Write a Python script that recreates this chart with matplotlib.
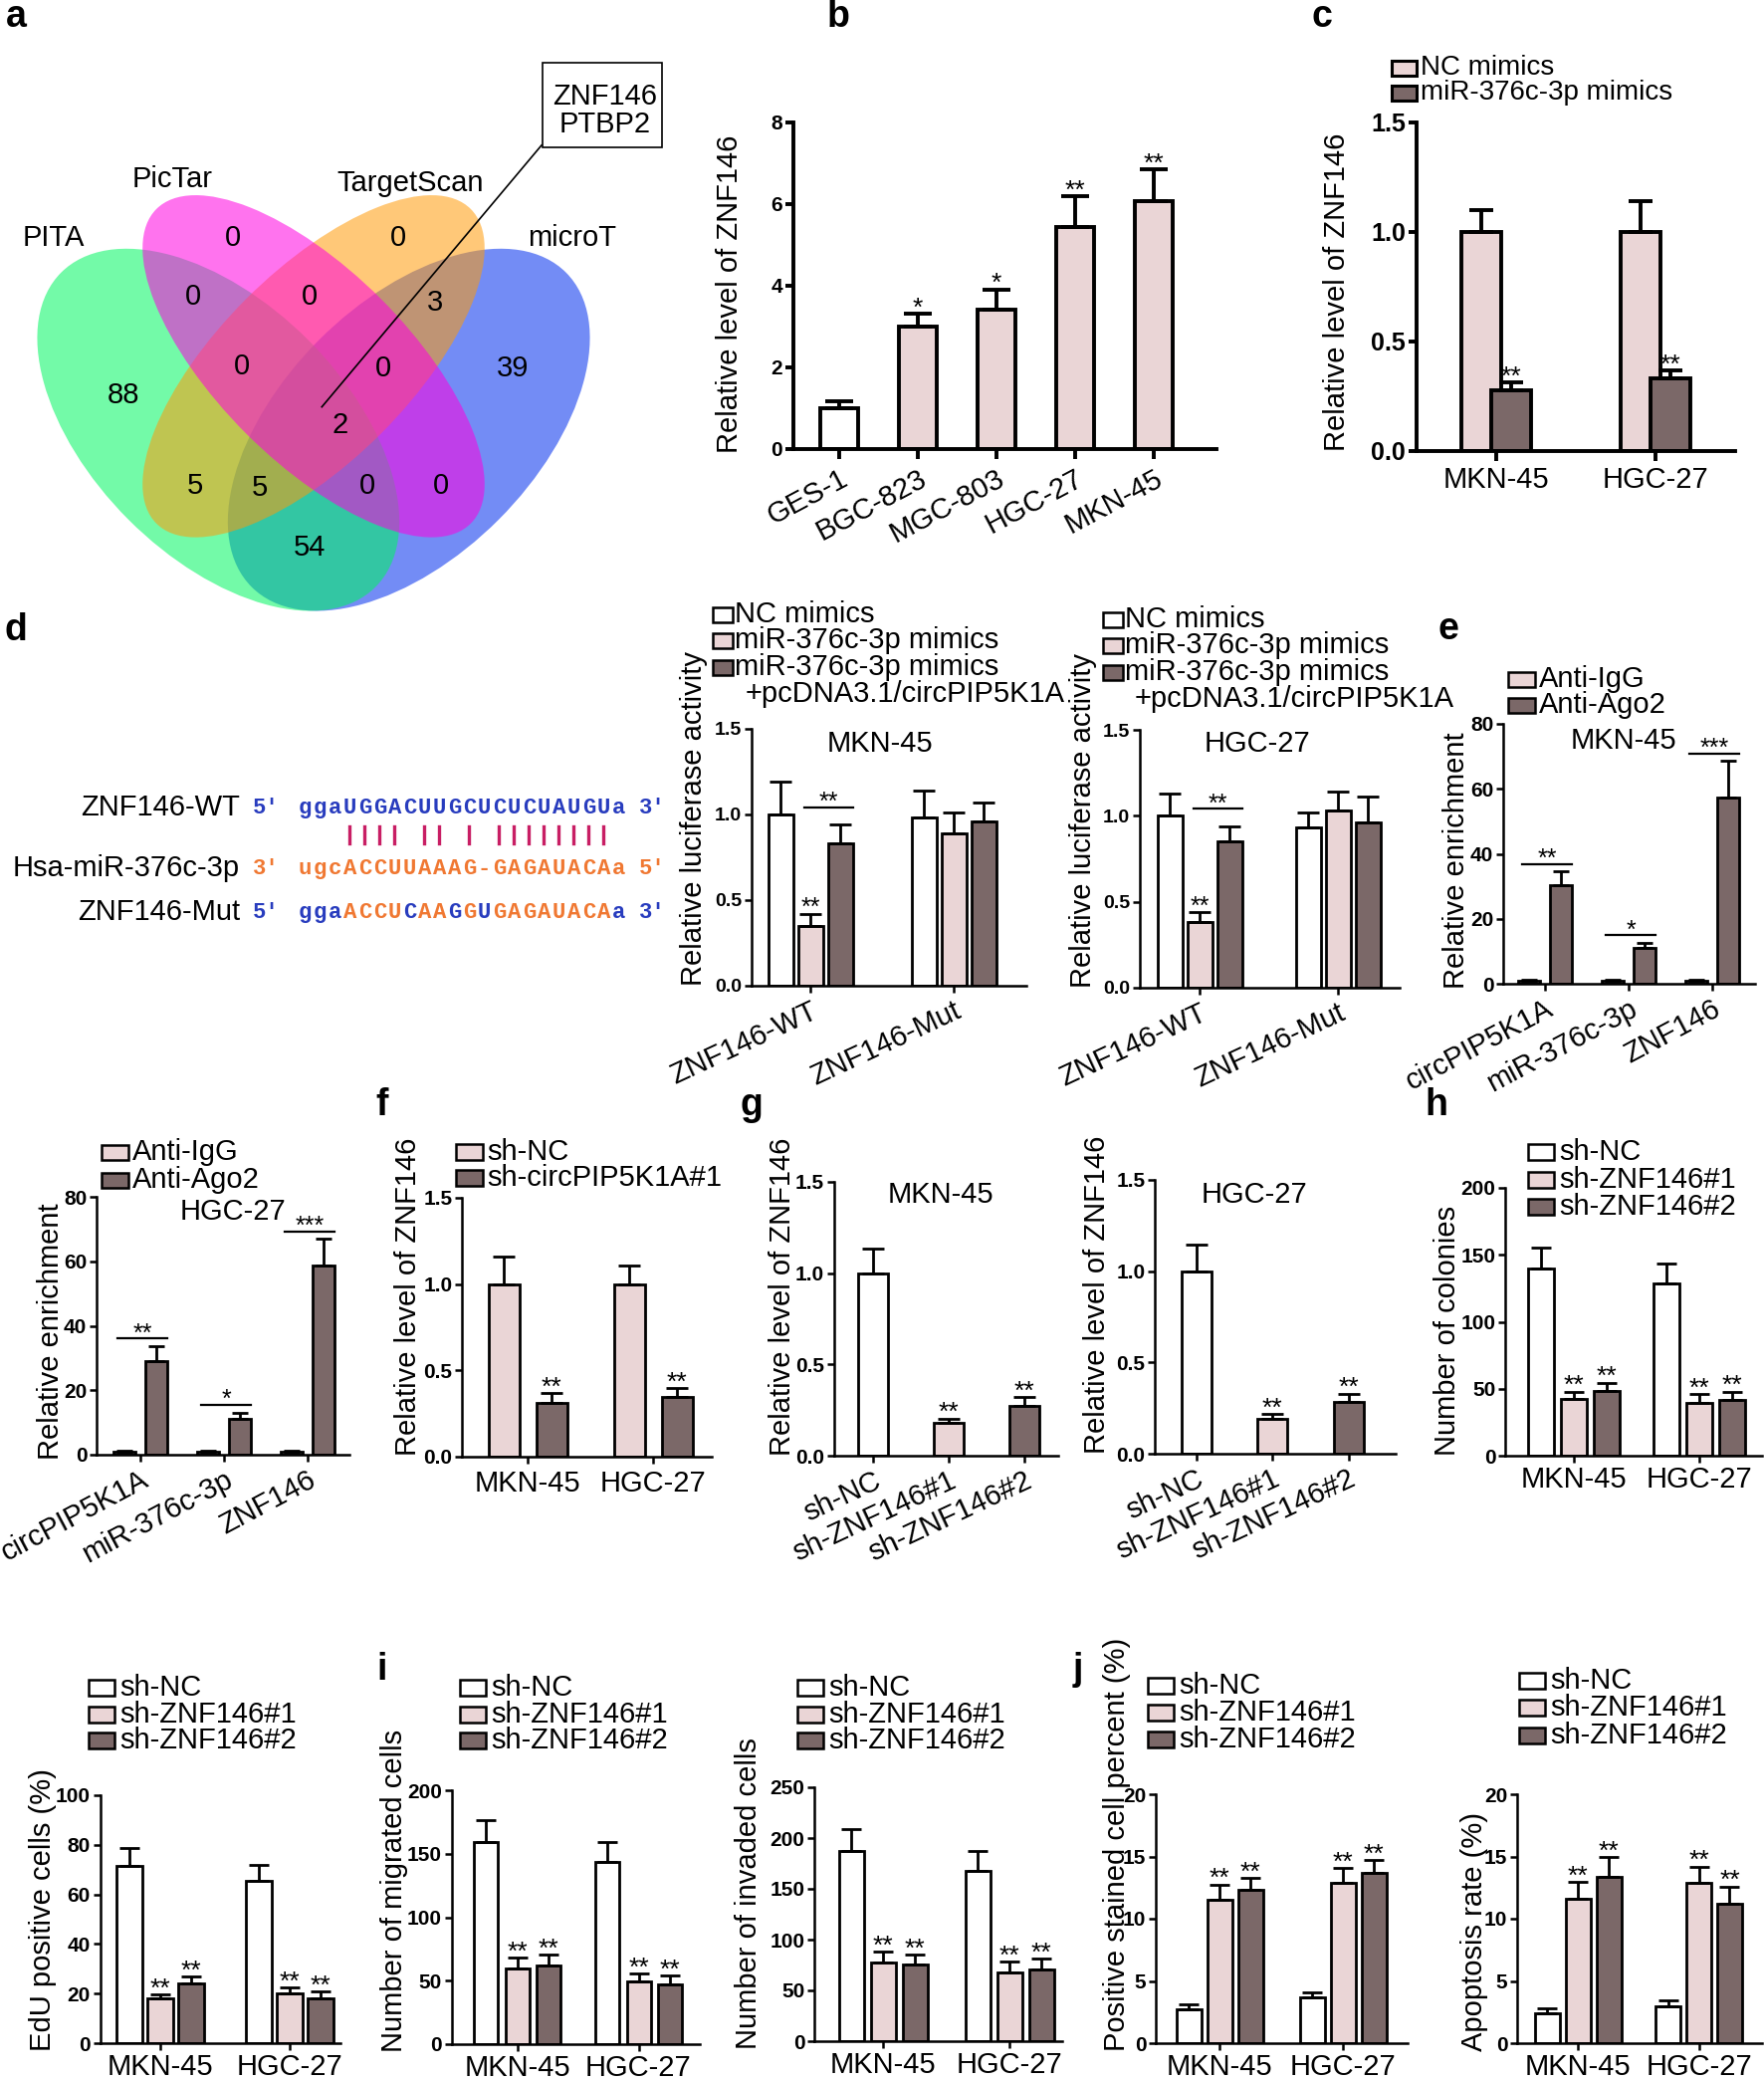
import numpy as np
import matplotlib.pyplot as plt
from matplotlib.patches import Ellipse, Rectangle
from matplotlib.lines import Line2D
from matplotlib.transforms import Affine2D, ScaledTranslation

plt.rcParams['font.family'] = ['Liberation Sans', 'DejaVu Sans']

W, H = 1772, 2089
WHITE, PINK, DARK = '#FFFFFF', '#EAD5D6', '#7B6868'

# ---------------- data ----------------
venn_names = ['PITA', 'PicTar', 'TargetScan', 'microT']
venn_counts = [0, 0, 0, 0, 3, 0, 0, 88, 39, 2, 5, 5, 0, 0, 54]
venn_shared = ['ZNF146', 'PTBP2']

b_cells = ['GES-1', 'BGC-823', 'MGC-803', 'HGC-27', 'MKN-45']
b_mean = [1.0, 3.0, 3.42, 5.43, 6.08]
b_err = [0.17, 0.31, 0.49, 0.77, 0.78]
b_sig = ['', '*', '*', '**', '**']

lines2 = ['MKN-45', 'HGC-27']
c_series = ['NC mimics', 'miR-376c-3p mimics']
c_mean = [[1.0, 1.0], [0.277, 0.33]]
c_err = [[0.10, 0.14], [0.037, 0.038]]
c_sig = [['', ''], ['**', '**']]

seq_names = ['ZNF146-WT', 'Hsa-miR-376c-3p', 'ZNF146-Mut']
seq_wt = 'ggaUGGACUUGCUCUCUAUGUa'
seq_mir = 'ugcACCUUAAAG-GAGAUACAa'
seq_mut = 'ggaACCUCAAGGUGAGAUACAa'

d_groups = ['ZNF146-WT', 'ZNF146-Mut']
d_series = ['NC mimics', 'miR-376c-3p mimics', 'miR-376c-3p mimics']
d_extra = '+pcDNA3.1/circPIP5K1A'
d_mkn_mean = [[1.0, 0.98], [0.35, 0.89], [0.83, 0.96]]
d_mkn_err = [[0.19, 0.16], [0.07, 0.12], [0.11, 0.11]]
d_hgc_mean = [[1.0, 0.93], [0.38, 1.03], [0.85, 0.96]]
d_hgc_err = [[0.13, 0.09], [0.06, 0.11], [0.09, 0.15]]
d_sig = [['', ''], ['**', ''], ['', '']]
d_bracket = ['**', '']

e_targets = ['circPIP5K1A', 'miR-376c-3p', 'ZNF146']
e_series = ['Anti-IgG', 'Anti-Ago2']
e_sig = ['**', '*', '***']
e_mkn_mean = [[1.0, 1.0, 1.0], [30.2, 11.1, 57.4]]
e_mkn_err = [[0.3, 0.3, 0.3], [4.4, 1.5, 11.2]]
e_hgc_mean = [[1.0, 1.0, 1.0], [29.0, 11.0, 58.7]]
e_hgc_err = [[0.3, 0.3, 0.3], [4.7, 2.1, 8.2]]

f_series = ['sh-NC', 'sh-circPIP5K1A#1']
f_mean = [[1.0, 1.0], [0.31, 0.348]]
f_err = [[0.16, 0.106], [0.06, 0.05]]
f_sig = [['', ''], ['**', '**']]

sh_series = ['sh-NC', 'sh-ZNF146#1', 'sh-ZNF146#2']
sh_sig = ['', '**', '**']
g_mkn_mean = [1.0, 0.178, 0.273]
g_mkn_err = [0.136, 0.026, 0.049]
g_hgc_mean = [1.0, 0.19, 0.285]
g_hgc_err = [0.145, 0.028, 0.045]

h_mean = [[140, 128.4], [42.1, 39.6], [48.3, 41.9]]
h_err = [[15.6, 14.8], [5.7, 6.2], [6.2, 5.9]]
edu_mean = [[71.4, 65.4], [18.1, 20.1], [24.2, 18.1]]
edu_err = [[7.4, 6.4], [1.6, 2.4], [2.6, 2.7]]
mig_mean = [[159, 143.3], [59.6, 49.2], [62.2, 47.3]]
mig_err = [[17.5, 16.2], [8.4, 6.5], [8.4, 6.6]]
inv_mean = [[187, 167.6], [77.8, 68.0], [75.2, 70.3]]
inv_err = [[21.5, 19.4], [10.4, 10.4], [9.8, 10.7]]
pos_mean = [[2.75, 3.65], [11.5, 12.9], [12.3, 13.65]]
pos_err = [[0.37, 0.40], [1.25, 1.2], [1.0, 1.05]]
apo_mean = [[2.4, 2.99], [11.6, 12.85], [13.33, 11.2]]
apo_err = [[0.4, 0.42], [1.33, 1.34], [1.65, 1.39]]

# ---------------- helpers ----------------
fig = plt.figure(figsize=(W / 100, H / 100), dpi=100)
pix = Affine2D().scale(1 / W, -1 / H).translate(0, 1) + fig.transFigure
LW_BIG, LW = 2.8, 2.0
FS = 21


def ftext(x, y, s, **kw):
    return fig.text(x, y, s, transform=pix, **kw)


def add_ax(box, g0, step):
    x0, x1, yt, yb = box
    ax = fig.add_axes([x0 / W, 1 - yb / H, (x1 - x0) / W, (yb - yt) / H])
    ax.set_xlim(-g0 / step, (x1 - x0 - g0) / step)
    return ax


def style(ax, ymax, yticks, fmt, lw, tfs, tlen):
    ax.set_ylim(0, ymax)
    ax.set_yticks(yticks)
    ax.set_yticklabels([fmt.format(t) for t in yticks], fontweight='bold', fontsize=tfs)
    for s in ('top', 'right'):
        ax.spines[s].set_visible(False)
    for s in ('left', 'bottom'):
        ax.spines[s].set_linewidth(lw)
    ax.tick_params(axis='both', direction='out', length=tlen, width=lw)
    ax.tick_params(axis='y', pad=2)
    ax.patch.set_visible(False)


def rot_labels(ax, labels, rot, dx):
    ax.set_xticklabels(labels, rotation=rot, ha='right', va='top', rotation_mode='anchor', fontsize=FS)
    for t in ax.get_xticklabels():
        t.set_transform(t.get_transform() + ScaledTranslation(dx / 100, 0, fig.dpi_scale_trans))


def stars(ax, x, top, s, fs, gap=3):
    ax.annotate(s, (x, top), xytext=(0, gap - 0.22 * fs), textcoords='offset points',
                ha='center', va='baseline', fontsize=fs, annotation_clip=False)


def grouped(ax, means, errs, colors, off, bw, lw, cap, sig=None, fs=18):
    n = len(means)
    xg = np.arange(len(means[0]))
    xs = []
    for j in range(n):
        x = xg + (j - (n - 1) / 2) * off
        ax.bar(x, means[j], bw, color=colors[j], edgecolor='black', linewidth=lw, zorder=2)
        ax.errorbar(x, means[j], yerr=[np.zeros(len(x)), errs[j]], fmt='none', ecolor='black',
                    elinewidth=lw, capsize=cap, capthick=lw, zorder=3)
        if sig is not None:
            for xi, m, e, s in zip(x, means[j], errs[j], sig[j]):
                if s:
                    stars(ax, xi, m + e, s, fs)
        xs.append(x)
    return xs


def legend(x0, ys, labels, colors, w=26, h=16, lw=1.8, fs=FS, gap=5):
    for y, lab, col in zip(ys, labels, colors):
        fig.add_artist(Rectangle((x0, y - h / 2), w, h, transform=pix, facecolor=col,
                                 edgecolor='black', linewidth=lw))
        ftext(x0 + w + gap, y, lab, fontsize=fs, va='center', ha='left')


def ylab(x, ybot, s, fs=FS):
    ftext(x, ybot, s, rotation=90, ha='center', va='bottom', fontsize=fs)


def bracket(ax, x1, x2, y, s, fs=18, lw=1.6):
    ax.plot([x1, x2], [y, y], color='black', lw=lw, clip_on=False, zorder=3)
    stars(ax, (x1 + x2) / 2, y, s, fs, gap=2.5)


# ---------------- a: Venn ----------------
axv = fig.add_axes([-4 / W, 1 - 731.5 / H, 638 / W, 638 / H])
axv.set_xlim(0, 1)
axv.set_ylim(0, 1)
axv.axis('off')
venn_shapes = [(0.35, 0.47, 0.70, 0.40, -45), (0.50, 0.57, 0.70, 0.30, -45),
               (0.50, 0.57, 0.70, 0.30, 45), (0.65, 0.47, 0.70, 0.40, 45)]
venn_colors = ['#00F661', '#FF00E0', '#FF9B0A', '#002EED']
for k in [3, 0, 2, 1]:
    cx, cy, ew, eh, ang = venn_shapes[k]
    axv.add_patch(Ellipse((cx, cy), ew, eh, angle=ang, facecolor=venn_colors[k],
                          edgecolor='none', alpha=0.55))
name_pos = [(0.091, 0.772), (0.278, 0.865), (0.652, 0.858), (0.907, 0.772)]
for (u, v), nm in zip(name_pos, venn_names):
    axv.text(u, v, nm, ha='center', va='center', fontsize=FS)
count_pos = [(0.373, 0.772), (0.633, 0.772), (0.310, 0.680), (0.494, 0.680), (0.692, 0.670),
             (0.387, 0.569), (0.609, 0.566), (0.201, 0.524), (0.814, 0.566), (0.541, 0.477),
             (0.313, 0.381), (0.415, 0.378), (0.584, 0.381), (0.701, 0.381), (0.494, 0.285)]
for (u, v), n in zip(count_pos, venn_counts):
    axv.text(u, v, str(n), ha='center', va='center', fontsize=21)
axv.add_patch(Rectangle((0.861, 0.915), 0.187, 0.133, facecolor='white', edgecolor='black',
                        lw=1.2, clip_on=False))
axv.text(0.958, 0.9726, '\n'.join(venn_shared), ha='center', va='center', fontsize=FS,
         linespacing=1.0, clip_on=False)
axv.plot([0.859, 0.513], [0.918, 0.506], color='black', lw=1.2, clip_on=False)

# ---------------- b ----------------
axb = add_ax((797, 1222, 123, 451), 46, 79)
xb = np.arange(len(b_cells))
axb.bar(xb, b_mean, 0.48, color=[WHITE] + [PINK] * 4, edgecolor='black', linewidth=LW_BIG, zorder=2)
axb.errorbar(xb, b_mean, yerr=[np.zeros(len(xb)), b_err], fmt='none', ecolor='black',
             elinewidth=LW_BIG, capsize=10, capthick=LW_BIG, zorder=3)
for x, m, e, s in zip(xb, b_mean, b_err, b_sig):
    if s:
        stars(axb, x, m + e, s, 19)
style(axb, 8, [0, 2, 4, 6, 8], '{:g}', LW_BIG, 15, 6)
axb.set_xticks(xb)
rot_labels(axb, b_cells, 28, 10)
axb.tick_params(axis='x', length=7, pad=4)
ylab(733, 455, 'Relative level of ZNF146')

# ---------------- c ----------------
axc = add_ax((1423, 1743, 123, 453), 80, 160)
grouped(axc, c_mean, c_err, [PINK, DARK], 0.1875, 0.244, LW_BIG, 8.5, c_sig, 19)
style(axc, 1.5, [0, 0.5, 1.0, 1.5], '{:.1f}', LW_BIG, 18, 6)
axc.set_xticks(np.arange(len(lines2)))
axc.set_xticklabels(lines2, fontsize=FS)
axc.tick_params(axis='x', length=7, pad=4)
legend(1398, [68, 93], c_series, [PINK, DARK], w=25, h=15, lw=2.2, fs=20, gap=4)
ylab(1343, 453, 'Relative level of ZNF146')

# ---------------- d: sequences ----------------
CH, SEQ_X = 15.0, 299
BLUE_S, ORANGE_S, PAIR_C = '#283CBE', '#F07832', '#C81E64'
mono = dict(family='Liberation Mono', fontweight='bold', fontsize=16, va='baseline')
comp = {'A': 'U', 'U': 'A', 'G': 'C', 'C': 'G'}
rows = [(809, seq_names[0], seq_wt, [BLUE_S] * len(seq_wt), ("5'", "3'"), BLUE_S),
        (870, seq_names[1], seq_mir, [ORANGE_S] * len(seq_mir), ("3'", "5'"), ORANGE_S),
        (914, seq_names[2], seq_mut,
         [ORANGE_S if a != b else BLUE_S for a, b in zip(seq_mut, seq_wt)], ("5'", "3'"), BLUE_S)]
for y, name, seq, cols, ends, ecol in rows:
    ftext(241, y + 10, name, ha='right', va='baseline', fontsize=FS)
    ftext(254, y + 8, ends[0], color=ecol, ha='left', **mono)
    for i, (ch, col) in enumerate(zip(seq, cols)):
        ftext(SEQ_X + CH * (i + 0.5), y + 8, ch, color=col, ha='center', **mono)
    ftext(642, y + 8, ends[1], color=ecol, ha='left', **mono)
for i, (a, b) in enumerate(zip(seq_wt, seq_mir)):
    if a.isupper() and b.isupper() and comp.get(a) == b:
        xp = SEQ_X + CH * (i + 0.5)
        fig.add_artist(Line2D([xp, xp], [830, 847], transform=pix, color=PAIR_C, lw=2.4))

# ---------------- d: luciferase ----------------
def luc_panel(box, g0, step, means, errs, title_xy, title, leg_x, leg_ys, extra_xy, ylab_x):
    ax = add_ax(box, g0, step)
    xs = grouped(ax, means, errs, [WHITE, PINK, DARK], 30 / step, 25 / step, LW, 8, d_sig, 18)
    bw = 25 / step
    for gi, s in enumerate(d_bracket):
        if s:
            y = max(means[1][gi] + errs[1][gi], means[2][gi] + errs[2][gi]) + 0.1
            bracket(ax, xs[1][gi] - 0.25 * bw, xs[2][gi] + 0.5 * bw, y, s, 18)
    style(ax, 1.5, [0, 0.5, 1.0, 1.5], '{:.1f}', 1.8, 14, 5)
    ax.set_xticks(np.arange(len(d_groups)))
    rot_labels(ax, d_groups, 25, 12)
    ax.tick_params(axis='x', length=5, pad=3)
    ftext(title_xy[0], title_xy[1], title, ha='center', va='center', fontsize=FS)
    legend(leg_x, leg_ys, d_series, [WHITE, PINK, DARK], w=20, h=15, lw=1.8, gap=2)
    ftext(extra_xy[0], extra_xy[1], d_extra, ha='left', va='center', fontsize=FS)
    ylab(ylab_x, box[3], 'Relative luciferase activity')


luc_panel((755, 1031, 732, 990), 59, 144, d_mkn_mean, d_mkn_err, (884, 747), 'MKN-45',
          716, [617, 643, 670], (749, 697), 697)
luc_panel((1145, 1406, 733, 992), 60, 139, d_hgc_mean, d_hgc_err, (1263, 747), 'HGC-27',
          1108, [622, 648, 675], (1140, 702), 1088)

# ---------------- e: RIP ----------------
def rip_panel(box, g0, means, errs, title_xy, title, leg_x, leg_ys, ylab_x):
    ax = add_ax(box, g0, 84)
    bw = 22 / 84
    xs = grouped(ax, means, errs, [PINK, DARK], 32 / 84, bw, LW, 6)
    for gi, s in enumerate(e_sig):
        y = means[1][gi] + errs[1][gi] + 2.3
        bracket(ax, xs[0][gi] - 0.3 * bw, xs[1][gi] + 0.5 * bw, y, s, 18)
    style(ax, 80, [0, 20, 40, 60, 80], '{:g}', 1.8, 15, 5)
    ax.set_xticks(np.arange(len(e_targets)))
    rot_labels(ax, e_targets, 28, 25)
    ax.tick_params(axis='x', length=5, pad=3)
    ftext(title_xy[0], title_xy[1], title, ha='center', va='center', fontsize=FS)
    legend(leg_x, leg_ys, e_series, [PINK, DARK], w=27, h=15, lw=1.8, gap=4)
    ylab(ylab_x, box[3] + 5, 'Relative enrichment')


rip_panel((1510, 1763, 727, 988), 42, e_mkn_mean, e_mkn_err, (1631, 744), 'MKN-45',
          1515, [682, 708], 1463)
rip_panel((97, 351, 1202, 1461), 44, e_hgc_mean, e_hgc_err, (234, 1217), 'HGC-27',
          102, [1157, 1185], 51)

# ---------------- f ----------------
axf = add_ax((464, 715, 1203, 1463), 66, 126)
grouped(axf, f_mean, f_err, [PINK, DARK], 48 / 126, 31 / 126, LW, 8, f_sig, 19)
style(axf, 1.5, [0, 0.5, 1.0, 1.5], '{:.1f}', 1.8, 15, 5)
axf.set_xticks(np.arange(len(lines2)))
axf.set_xticklabels(lines2, fontsize=FS)
axf.tick_params(axis='x', length=5, pad=4)
legend(458, [1157, 1183], f_series, [PINK, DARK], w=27, h=16, lw=1.8, gap=4)
ylab(410, 1462, 'Relative level of ZNF146')

# ---------------- g ----------------
def kd_panel(box, g0, step, mean, err, title_xy, title, ylab_x):
    ax = add_ax(box, g0, step)
    x = np.arange(len(sh_series))
    ax.bar(x, mean, 30 / step, color=[WHITE, PINK, DARK], edgecolor='black', linewidth=LW, zorder=2)
    ax.errorbar(x, mean, yerr=[np.zeros(len(x)), err], fmt='none', ecolor='black',
                elinewidth=LW, capsize=8, capthick=LW, zorder=3)
    for xi, m, e, s in zip(x, mean, err, sh_sig):
        if s:
            stars(ax, xi, m + e, s, 19)
    style(ax, 1.5, [0, 0.5, 1.0, 1.5], '{:.1f}', 1.8, 15, 5)
    ax.set_xticks(x)
    rot_labels(ax, sh_series, 25, 18)
    ax.tick_params(axis='x', length=5, pad=3)
    ftext(title_xy[0], title_xy[1], title, ha='center', va='center', fontsize=FS)
    ylab(ylab_x, box[3], 'Relative level of ZNF146')


kd_panel((837.5, 1063, 1187, 1462), 39.5, 76, g_mkn_mean, g_mkn_err, (945, 1200), 'MKN-45', 786)
kd_panel((1160, 1402, 1185, 1460), 41.5, 76.5, g_hgc_mean, g_hgc_err, (1260, 1200), 'HGC-27', 1102)

# ---------------- h, i, j ----------------
def func_panel(box, g0, step, off, bw, ymax, ystep, means, errs, leg_x, leg_ys, label, ylab_x):
    ax = add_ax(box, g0, step)
    grouped(ax, means, errs, [WHITE, PINK, DARK], off / step, bw / step, LW, 7,
            [[s] * len(means[0]) for s in sh_sig], 19)
    style(ax, ymax, np.arange(0, ymax + ystep / 2, ystep), '{:g}', 1.8, 15, 5)
    ax.set_xticks(np.arange(len(lines2)))
    ax.set_xticklabels(lines2, fontsize=FS)
    ax.tick_params(axis='x', length=5, pad=2)
    legend(leg_x, leg_ys, sh_series, [WHITE, PINK, DARK], w=26, h=16, lw=1.8, gap=5)
    ylab(ylab_x, box[3] + (8 if box[3] > 1700 else 0), label)
    return ax


func_panel((1512, 1770, 1193, 1462), 69, 126, 33, 26, 200, 50, h_mean, h_err,
           1535, [1157, 1185, 1212], 'Number of colonies', 1454)
func_panel((100.5, 342, 1803, 2052), 60, 130, 31, 26, 100, 20, edu_mean, edu_err,
           89, [1695, 1722, 1748], 'EdU positive cells (%)', 43)
func_panel((453.5, 703, 1798, 2053), 66, 122, 31.5, 24, 200, 50, mig_mean, mig_err,
           462, [1695, 1722, 1748], 'Number of migrated cells', 396)
func_panel((818, 1067, 1795, 2050), 69, 127, 32, 25, 250, 50, inv_mean, inv_err,
           801, [1695, 1722, 1748], 'Number of invaded cells', 752)
func_panel((1161, 1414, 1802, 2052), 64, 124, 31, 25, 20, 5, pos_mean, pos_err,
           1153, [1693, 1720, 1747], 'Positive stained cell percent (%)', 1122)
func_panel((1524, 1770, 1802, 2052), 61, 121.5, 31, 25, 20, 5, apo_mean, apo_err,
           1526, [1688, 1715, 1743], 'Apoptosis rate (%)', 1481)

# ---------------- panel letters ----------------
for s, x, y in [('a', 16, 17), ('b', 842, 17), ('c', 1328, 17), ('d', 16, 633), ('e', 1455, 632),
                ('f', 384, 1110), ('g', 755, 1110), ('h', 1443, 1110), ('i', 384, 1677),
                ('j', 1083, 1677)]:
    ftext(x, y, s, fontsize=27, fontweight='bold', ha='center', va='center')

fig.savefig('out.png', dpi=100)
